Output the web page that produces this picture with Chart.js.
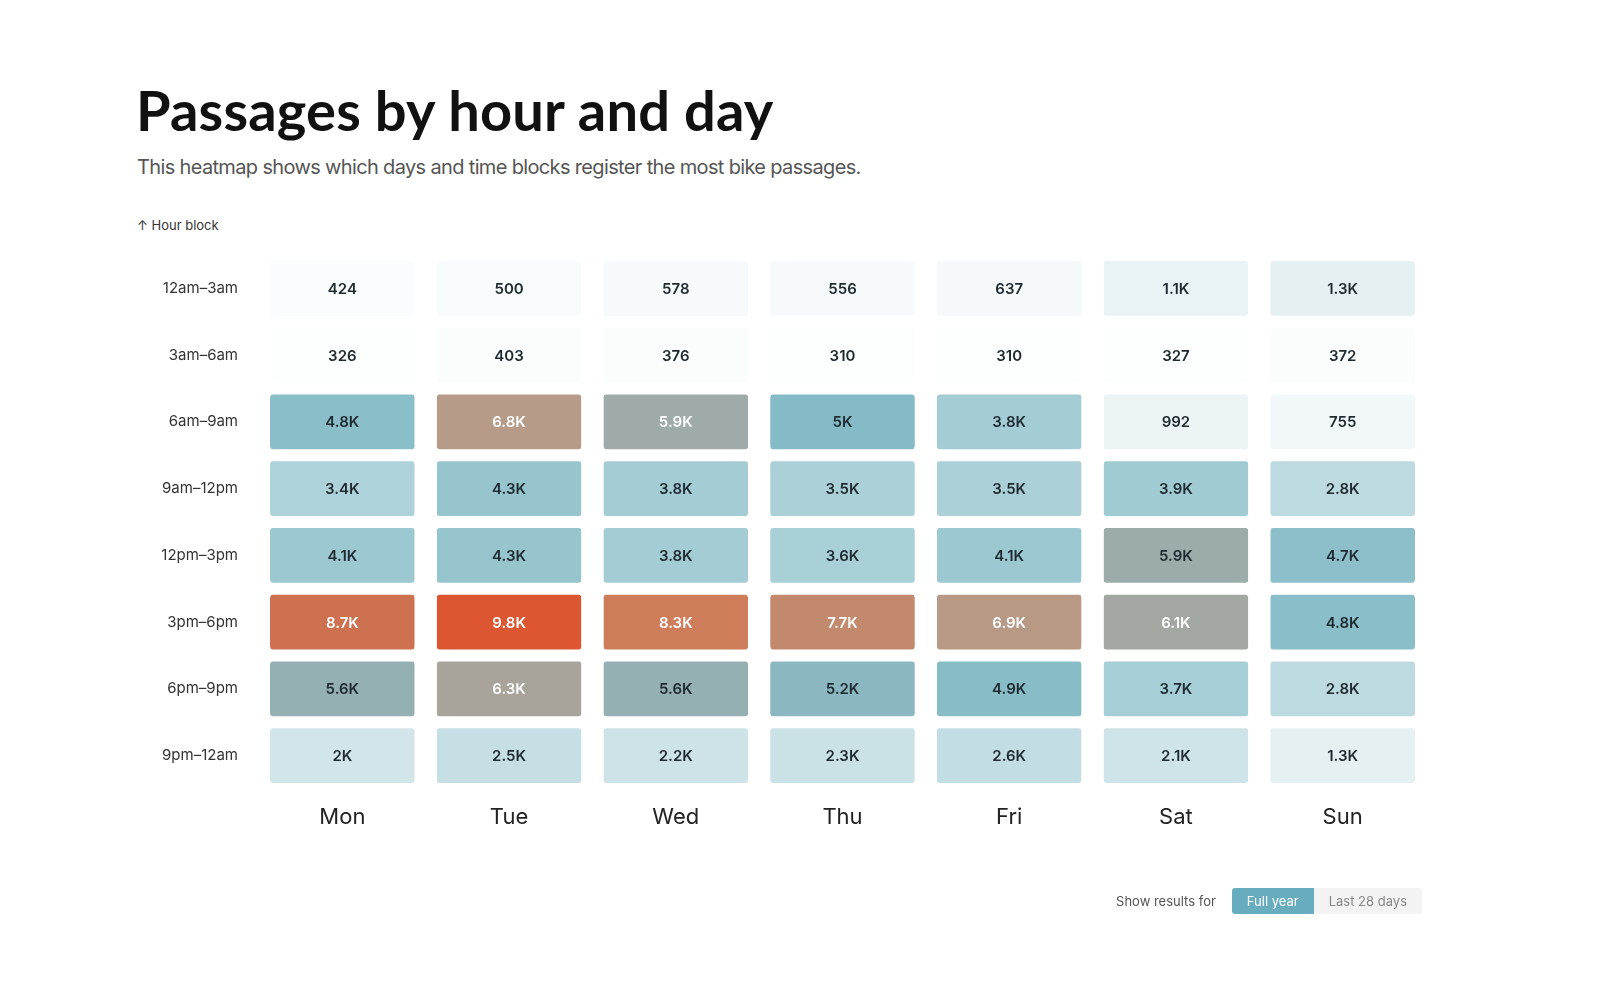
<!DOCTYPE html>
<html>
<head>
<meta charset="utf-8">
<script src="https://cdn.jsdelivr.net/npm/chart.js@4/dist/chart.umd.min.js"></script>
<style>
  html, body { margin: 0; padding: 0; background: #fff; }
  body { width: 1600px; height: 992px; position: relative; overflow: hidden; font-family: Inter, sans-serif; }
  #wrap { position: absolute; left: 0; top: 0; width: 1600px; height: 992px; }
  h1 { position: absolute; left: 136px; top: 80px; margin: 0; font-family: Lato, sans-serif; font-weight: 700;
       font-size: 56px; line-height: 60px; letter-spacing: 0.2px; color: #111; }
  .sub { position: absolute; left: 137px; top: 155px; font-size: 20px; color: #555; letter-spacing: -0.65px; }
  .axis-note { position: absolute; left: 137px; top: 217px; font-size: 13px; color: #333; }
  .toggle { position: absolute; right: 178px; top: 888px; height: 26px; display: flex; align-items: center; font-size: 13px; }
  .toggle .lbl { color: #555; margin-right: 16px; }
  .toggle .btn { height: 26px; line-height: 26px; padding: 0 15px; }
  .toggle .on { background: #67adbf; color: #fff; border-radius: 3px 0 0 3px; }
  .toggle .off { background: #f3f3f3; color: #888; border-radius: 0 3px 3px 0; }
</style>
</head>
<body>
<h1>Passages by hour and day</h1>
<div class="sub">This heatmap shows which days and time blocks register the most bike passages.</div>
<div class="axis-note">↑ Hour block</div>
<div id="wrap"><canvas id="heatChart"></canvas></div>
<div class="toggle">
  <span class="lbl">Show results for</span>
  <span class="btn on">Full year</span>
  <span class="btn off">Last 28 days</span>
</div>
<script>
const days = ["Mon", "Tue", "Wed", "Thu", "Fri", "Sat", "Sun"];
const hourBlocks = ["12am–3am", "3am–6am", "6am–9am", "9am–12pm", "12pm–3pm", "3pm–6pm", "6pm–9pm", "9pm–12am"];
const blockStart = [0, 3, 6, 9, 12, 15, 18, 21];
const blockEnd = [3, 6, 9, 12, 15, 18, 21, 24];

// passages per block, Mon..Sun
const passages = [
  [424, 500, 578, 556, 637, 1100, 1300],
  [326, 403, 376, 310, 310, 327, 372],
  [4800, 6800, 5920, 5000, 3800, 992, 755],
  [3400, 4300, 3800, 3500, 3500, 3900, 2800],
  [4100, 4300, 3800, 3600, 4100, 5860, 4700],
  [8700, 9800, 8300, 7700, 6900, 6100, 4800],
  [5600, 6300, 5600, 5200, 4900, 3700, 2800],
  [2000, 2500, 2200, 2300, 2600, 2100, 1300],
];

// colour ramp: light -> teal -> grey -> brown -> orange-red
const rampStops = [310, 5000, 5900, 6800, 8300, 8700, 9800];
const rampColors = [[253, 254, 254], [133, 187, 198], [157, 171, 170], [181, 155, 136], [205, 125, 89], [205, 113, 80], [220, 86, 49]];

function heatColor(v) {
  if (v <= rampStops[0]) return "rgb(" + rampColors[0].join(",") + ")";
  for (let i = 1; i < rampStops.length; i++) {
    if (v <= rampStops[i]) {
      const t = (v - rampStops[i - 1]) / (rampStops[i] - rampStops[i - 1]);
      const a = rampColors[i - 1], b = rampColors[i];
      return "rgb(" + a.map((c, k) => Math.round(c + (b[k] - c) * t)).join(",") + ")";
    }
  }
  return "rgb(" + rampColors[rampColors.length - 1].join(",") + ")";
}

function fmt(v) {
  if (v < 1000) return String(v);
  return (v / 1000).toFixed(1).replace(/\.0$/, "") + "K";
}

const cellLabels = {
  id: "cellLabels",
  afterDatasetsDraw(chart) {
    const ctx = chart.ctx;
    ctx.save();
    ctx.font = "600 15px Inter";
    ctx.textAlign = "center";
    ctx.textBaseline = "middle";
    chart.data.datasets.forEach((ds, i) => {
      chart.getDatasetMeta(i).data.forEach((bar, j) => {
        const p = bar.getProps(["x", "y", "base"], true);
        const v = passages[i][j];
        ctx.fillStyle = v >= 5900 ? "#ffffff" : "#1f2a30";
        ctx.fillText(fmt(v), p.x, (p.y + p.base) / 2 + 1);
      });
    });
    ctx.restore();
  }
};

Chart.defaults.font.family = "Inter";

new Chart(document.getElementById("heatChart"), {
  type: "bar",
  data: {
    labels: days,
    datasets: hourBlocks.map((name, i) => ({
      label: name,
      data: days.map(() => [blockStart[i], blockEnd[i]]),
      backgroundColor: passages[i].map(heatColor),
      borderColor: "#ffffff",
      borderWidth: { top: 6, bottom: 6, left: 0, right: 0 },
      borderSkipped: false,
      borderRadius: 9,
      barPercentage: 0.868,
      categoryPercentage: 1,
      grouped: false,
    })),
  },
  options: {
    responsive: true,
    maintainAspectRatio: false,
    animation: false,
    layout: { padding: { left: 129, right: 174, top: 255, bottom: 153 } },
    plugins: { legend: { display: false }, tooltip: { enabled: false } },
    scales: {
      x: {
        grid: { display: false, drawTicks: false },
        border: { display: false },
        ticks: { font: { size: 22 }, color: "#222", padding: 15 },
        afterFit: (s) => { s.height = 50; },
      },
      y: {
        reverse: true,
        min: 0,
        max: 24,
        grid: { display: false, drawTicks: false },
        border: { display: false },
        afterBuildTicks: (s) => { s.ticks = blockStart.map((b, i) => ({ value: (b + blockEnd[i]) / 2 })); },
        afterFit: (s) => { s.width = 130; },
        ticks: {
          autoSkip: false,
          font: { size: 15 },
          color: "#333",
          padding: 21,
          callback: (v, idx) => hourBlocks[idx],
        },
      },
    },
  },
  plugins: [cellLabels],
});
</script>
</body>
</html>
